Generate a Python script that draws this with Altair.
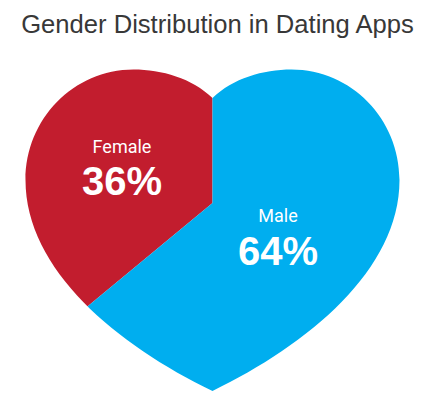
import altair as alt
import pandas as pd

# ---- data ----
genders = ["Female", "Male"]
shares = [36, 64]
title_text = "Gender Distribution in Dating Apps"

colors = ["#C21D2E", "#00AEEF"]

df = pd.DataFrame({"gender": genders, "share": shares})
base = alt.Chart(df)

# pie centre (chart coordinates; page has an 8px margin)
CX, CY = 204.5, 195.0
SCREEN_CY = 203.0

# heart outline (right half control points, x offset from centre line, y in screen px)
right_half = [
    ((20.4, 78.4), (50.6, 69.5), (79.0, 69.5)),
    ((139.0, 69.5), (187.0, 119.2), (187.0, 180.0)),
    ((187.0, 270.0), (95.0, 345.0), (0.0, 391.0)),
]
cusp = (0.0, 98.0)


def p(x, y):
    return f"{x:.1f} {y - SCREEN_CY:.1f}"


# outer rectangle (clockwise) + heart hole (counter-clockwise)
path = "M -240 -230 L 240 -230 L 240 210 L -240 210 Z "
path += f"M {p(*cusp)} "
for c1, c2, e in right_half:  # left side, mirrored, going down
    path += f"C {p(-c1[0], c1[1])} {p(-c2[0], c2[1])} {p(-e[0], e[1])} "
# right side going back up
pts = [cusp] + [seg[2] for seg in right_half]
for i in range(len(right_half) - 1, -1, -1):
    c1, c2, e = right_half[i]
    start = pts[i]
    path += f"C {p(*c2)} {p(*c1)} {p(*start)} "
path += "Z"

pie = base.mark_arc(radius=200).encode(
    theta=alt.Theta("share:Q", stack=True),
    color=alt.Color("gender:N", scale=alt.Scale(domain=genders, range=colors), legend=None),
    order=alt.Order("gender:N", sort="descending"),
    x=alt.value(CX),
    y=alt.value(CY),
)

mask = alt.Chart(pd.DataFrame({"m": [0]})).mark_point(
    shape=path, filled=True, opacity=1, size=4, color="white", strokeWidth=0
).encode(x=alt.value(CX), y=alt.value(CY))

label_font = "Roboto"
pct_font = "Liberation Sans"


def labels(name, x, y_name, y_pct):
    sub = base.transform_filter(alt.datum.gender == name).transform_calculate(
        pct="datum.share + '%'"
    )
    t1 = sub.mark_text(
        font=label_font, fontSize=18, color="white", baseline="alphabetic", align="center"
    ).encode(text="gender:N", x=alt.value(x), y=alt.value(y_name))
    t2 = sub.mark_text(
        font=pct_font, fontSize=40, fontWeight="bold", color="white",
        baseline="alphabetic", align="center"
    ).encode(text="pct:N", x=alt.value(x), y=alt.value(y_pct))
    return t1 + t2


title = alt.Chart(pd.DataFrame({"t": [title_text]})).mark_text(
    font="Liberation Sans", fontSize=25.6, color="#383838", baseline="alphabetic", align="center"
).encode(text="t:N", x=alt.value(209.5), y=alt.value(24.5))

chart = alt.layer(
    pie,
    mask,
    labels("Female", 114, 145, 187),
    labels("Male", 270, 214, 257),
    title,
).properties(
    width=419, height=383, padding=0, autosize="none"
).configure_view(strokeWidth=0)

chart.save("out.html", embed_options={"renderer": "svg", "actions": False})
